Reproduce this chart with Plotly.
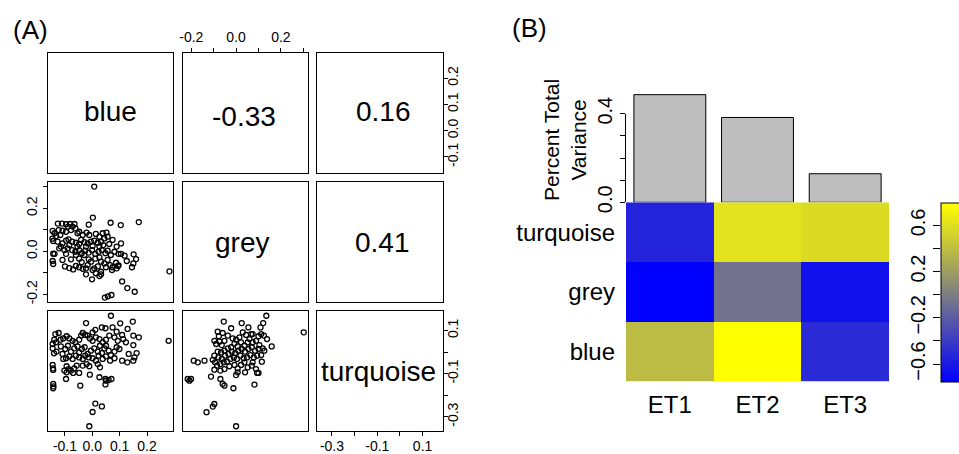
import plotly.graph_objects as go

W, H = 959, 454
FONT = "Liberation Sans, Arial, Helvetica, sans-serif"

# ---------------- data ----------------
variables = ["blue", "grey", "turquoise"]
axis_ranges = {"blue": [-0.162, 0.295], "grey": [-0.237, 0.321], "turquoise": [-0.366, 0.19]}
corr_labels = {(1, 2): "-0.33", (1, 3): "0.16", (2, 3): "0.41"}

# panel row2,col1 : x = blue, y = grey
p21_blue = [0.007, 0.002, 0.170, 0.067, 0.104, -0.013, 0.282, 0.109, 0.128, 0.155, 0.046, 0.057, 0.070,
            -0.001, -0.023, 0.032, 0.026, -0.126, -0.111, -0.096, -0.081, -0.065, -0.072, -0.089,
            -0.145, -0.146, -0.143, -0.132, -0.117, -0.138, -0.123, -0.109, -0.096, -0.078, -0.062,
            -0.054, -0.048, -0.035, -0.021, -0.011, 0.013, 0.026, 0.038, 0.044, 0.056, 0.052,
            -0.127, -0.109, -0.096, -0.087, -0.074, -0.060, -0.048, -0.041, -0.029, -0.017, -0.005,
            0.007, 0.020, 0.032, 0.040, 0.026, 0.001, -0.023, -0.054, -0.084, -0.115, 0.105, 0.089,
            0.074, 0.062, -0.143, -0.138, -0.121, -0.102, -0.090, -0.074, -0.062, -0.048, -0.038,
            -0.026, -0.013, -0.001, 0.011, 0.023, 0.035, 0.048, 0.056, 0.068, 0.081, 0.096, 0.105,
            0.118, 0.151, -0.029, -0.060, -0.096, -0.145, -0.143, -0.109, -0.100, -0.084, -0.070,
            -0.060, -0.039, -0.035, -0.023, -0.017, -0.005, 0.007, 0.020, 0.032, 0.044, 0.056, 0.065,
            0.074, 0.087, 0.094, 0.089, 0.096, 0.126, 0.160, 0.150, 0.145, 0.011, -0.013, -0.048,
            -0.078, 0.026, 0.050, 0.032, 0.001, -0.048, 0.072, 0.013]
p21_grey = [0.301, 0.157, 0.136, 0.133, 0.122, 0.124, -0.093, -0.140, -0.171, -0.188, -0.215, -0.209, -0.203,
            -0.130, -0.107, -0.107, -0.115, 0.129, 0.129, 0.126, 0.127, 0.127, 0.115, 0.115,
            0.095, 0.059, 0.048, 0.071, 0.076, 0.084, 0.099, 0.096, 0.091, 0.099, 0.107,
            0.084, 0.091, 0.076, 0.087, 0.076, 0.081, 0.068, 0.084, 0.060, 0.068, 0.087,
            0.045, 0.037, 0.050, 0.056, 0.045, 0.040, 0.034, 0.053, 0.043, 0.037, 0.045,
            0.050, 0.040, 0.045, 0.029, 0.022, 0.025, 0.022, 0.022, 0.029, 0.022, 0.037, 0.022,
            0.053, 0.034, -0.011, -0.012, 0.014, 0.006, 0.014, 0.006, -0.002, 0.006, -0.009,
            0.003, -0.006, 0.006, -0.012, -0.002, 0.006, -0.009, 0.003, -0.017, -0.002, -0.012, -0.012,
            -0.020, -0.014, -0.017, -0.017, -0.012, -0.045, -0.059, -0.040, -0.070, -0.078, -0.084,
            -0.068, -0.050, -0.081, -0.079, -0.064, -0.048, -0.079, -0.070, -0.048, -0.056, -0.040, -0.064,
            -0.074, -0.053, -0.068, -0.079, -0.065, -0.045, -0.036, -0.056, -0.074, -0.034, -0.037, -0.034,
            -0.037, -0.028, -0.074, -0.095, -0.087, -0.074, -0.087, -0.102]

# panel row3,col1 : x = blue, y = turquoise
p31_blue = [0.068, -0.023, 0.148, 0.102, 0.279, 0.170, 0.150, 0.129, 0.089, 0.074, 0.048, 0.035, 0.011, 0.001,
            -0.135, -0.123, -0.145, -0.139, -0.133, -0.116, -0.106, -0.094, -0.084, -0.072, -0.062, -0.048,
            -0.041, -0.035, -0.026, -0.017, -0.009, 0.001, 0.013, 0.026, 0.038, 0.050, 0.062, 0.081, 0.093,
            0.109, 0.113, 0.123, 0.150, 0.162, 0.154, 0.150, 0.133, 0.128, 0.109,
            -0.145, -0.140, -0.131, -0.115, -0.109, -0.099, -0.089, -0.078, -0.066, -0.054, -0.048, -0.038,
            -0.028, -0.017, -0.005, 0.007, 0.020, 0.028, 0.035, 0.044, 0.050, 0.060, 0.068, 0.081, 0.089,
            0.099, 0.081, 0.065, 0.050, 0.038, 0.023, 0.013, 0.001, -0.013, -0.026, -0.035, -0.048, -0.060,
            -0.072, -0.084, -0.096, -0.106,
            -0.145, -0.144, -0.143, -0.094, -0.087, -0.078, -0.066, -0.057, -0.048, -0.070, -0.094, -0.102,
            -0.035, -0.021, -0.011, 0.020, 0.028, -0.009, -0.096, -0.044, -0.143, -0.142, -0.143, 0.026,
            0.048, 0.060, 0.070, 0.048, 0.050, 0.011, 0.035, 0.001, -0.011]
p31_turq = [0.168, 0.134, 0.141, 0.133, 0.052, 0.068, 0.076, 0.107, 0.094, 0.114, 0.110, 0.114, 0.103, 0.091,
            0.083, 0.088, 0.037, 0.057, 0.045, 0.057, 0.063, 0.073, 0.063, 0.052, 0.045, 0.057,
            0.076, 0.088, 0.079, 0.076, 0.063, 0.052, 0.068, 0.060, 0.045, 0.057, 0.076, 0.068, 0.052,
            0.079, 0.060, 0.045, 0.032, -0.005, -0.025, -0.040, -0.009, -0.048, -0.040,
            0.017, -0.006, 0.002, 0.026, -0.009, 0.014, 0.029, 0.002, 0.017, 0.026, -0.002, 0.014,
            0.022, -0.009, 0.006, 0.017, 0.002, 0.029, -0.005, 0.017, 0.029, 0.006, -0.014, 0.002, 0.022,
            0.014, -0.029, -0.040, -0.020, -0.032, -0.017, -0.040, -0.029, -0.025, -0.017, -0.032, -0.025, -0.017,
            -0.032, -0.020, -0.029, -0.032,
            -0.060, -0.076, -0.083, -0.066, -0.079, -0.086, -0.076, -0.063, -0.097, -0.097, -0.094, -0.086,
            -0.063, -0.056, -0.066, -0.056, -0.071, -0.105, -0.125, -0.156, -0.148, -0.159, -0.168, -0.117,
            -0.125, -0.130, -0.125, -0.150, -0.133, -0.239, -0.252, -0.278, -0.344]

# panel row3,col2 : x = grey, y = turquoise
p32_grey = [0.135, -0.055, 0.121, 0.025, 0.055, 0.109, -0.022, 0.302, -0.082, -0.060, -0.077, -0.097, 0.159,
            0.126, 0.124, 0.138, 0.112, 0.074,
            -0.089, -0.074, -0.064, -0.052, -0.037, -0.015, 0.000, 0.015, 0.030, 0.045, 0.060, 0.074, 0.089,
            0.104, 0.119, 0.100, 0.067, 0.052, 0.037, 0.022, 0.007, -0.007, -0.022, -0.037, -0.052, -0.067,
            -0.082, -0.097, -0.079, -0.064, -0.049, -0.034, -0.019, -0.004, 0.010, 0.025, 0.040, 0.055, 0.070,
            0.085, 0.100, 0.112, 0.094, 0.079, 0.064, 0.049, 0.034, 0.019, 0.004, -0.010, -0.025, -0.040,
            -0.055, -0.070, -0.085, -0.094, -0.104, -0.097, -0.070, -0.052, -0.030, -0.007, 0.007, 0.022,
            0.037, 0.052, 0.070, 0.089, 0.115, 0.007, 0.000, 0.040, 0.094, 0.100, 0.074,
            -0.189, -0.171, -0.141, -0.216, -0.208, -0.201, -0.112, -0.070, -0.060, -0.052, -0.012, 0.082,
            -0.097, -0.104, -0.132, 0.000]
p32_turq = [0.168, 0.141, 0.134, 0.134, 0.114, 0.114, 0.110, 0.091, 0.094, 0.088, 0.073, 0.052, 0.026,
            0.006, 0.076, 0.060, 0.083, 0.083,
            0.037, 0.048, 0.032, 0.052, 0.076, 0.063, 0.057, 0.068, 0.091, 0.079, 0.060, 0.045, 0.052,
            0.032, 0.017, 0.073, 0.083, 0.045, 0.029, 0.045, 0.026, 0.039, 0.022, 0.017, 0.006, -0.002,
            0.002, -0.017, -0.025, -0.032, -0.017, -0.009, 0.002, -0.005, 0.006, 0.014, 0.002, 0.014, 0.022,
            0.006, 0.014, -0.014, -0.017, -0.025, -0.014, -0.025, -0.029, -0.017, -0.032, -0.025, -0.032, -0.045,
            -0.048, -0.056, -0.063, -0.048, -0.036, -0.082, -0.086, -0.079, -0.066, -0.060, -0.076, -0.060,
            -0.048, -0.071, -0.063, -0.079, -0.045, -0.094, -0.107, -0.094, -0.097, -0.097, -0.048,
            -0.040, -0.048, -0.040, -0.125, -0.133, -0.125, -0.114, -0.125, -0.148, -0.156, -0.168, -0.151,
            -0.241, -0.253, -0.279, -0.344]

eigengenes = ["ET1", "ET2", "ET3"]
variance_explained = [0.486, 0.383, 0.129]
heat_rows = ["blue", "grey", "turquoise"]
heat_blue = [0.39, 0.80, -0.50]
heat_grey = [-0.753, -0.06, -0.65]
heat_turquoise = [-0.54, 0.62, 0.58]
heat_range = [-0.753, 0.80]
cbar_ticks = [-0.6, -0.4, -0.2, 0.0, 0.2, 0.4, 0.6]
cbar_ticktext = ["\u22120.6", "", "\u22120.2", "", "0.2", "", "0.6"]

# ---------------- layout helpers (pixel geometry) ----------------
def dx(a, b):
    return [a / W, b / W]

def dy(top, bottom):
    return [1 - bottom / H, 1 - top / H]

def sfx(n):
    return "" if n == 1 else str(n)

col_px = [(48, 173), (183, 308), (317, 443)]
row_px = [(53, 173.3), (182.3, 302.3), (311, 431)]

tickfont_a = dict(family=FONT, size=14, color="black")

fig = go.Figure()
layout = dict(
    width=W, height=H, template="none",
    margin=dict(l=0, r=0, t=0, b=0, autoexpand=False),
    paper_bgcolor="white", plot_bgcolor="rgba(0,0,0,0)",
    font=dict(family=FONT, color="black"),
    showlegend=False,
)

def box_axis(domain, rng):
    return dict(domain=domain, range=rng, showgrid=False, zeroline=False, showline=True,
                mirror=True, linecolor="black", linewidth=1, ticks="", showticklabels=False,
                fixedrange=True)

def with_ticks(ax, side, vals, text, angle=0, standoff=0):
    ax.update(side=side, ticks="outside", ticklen=4, tickwidth=1, tickcolor="black",
              showticklabels=True, tickvals=vals, ticktext=text, tickfont=tickfont_a,
              tickangle=angle, ticklabelstandoff=standoff)
    return ax

grey_ticks = [-0.2, -0.1, 0.0, 0.1, 0.2, 0.3]
grey_text = ["-0.2", "", "0.0", "", "0.2", ""]
blue_ticks = [-0.1, 0.0, 0.1, 0.2]
blue_text = ["-0.1", "0.0", "0.1", "0.2"]
turq_ticks = [-0.3, -0.2, -0.1, 0.0, 0.1]
turq_text = ["-0.3", "", "-0.1", "", "0.1"]

for r in range(3):
    for c in range(3):
        n = r * 3 + c + 1
        xa = box_axis(dx(*col_px[c]), axis_ranges[variables[c]])
        ya = box_axis(dy(*row_px[r]), axis_ranges[variables[r]])
        xa["anchor"] = "y" + sfx(n)
        ya["anchor"] = "x" + sfx(n)
        if (r, c) == (0, 1):
            with_ticks(xa, "top", grey_ticks, grey_text)
        if (r, c) == (2, 0):
            with_ticks(xa, "bottom", blue_ticks, blue_text, standoff=-2)
        if (r, c) == (2, 2):
            with_ticks(xa, "bottom", turq_ticks, turq_text, standoff=-2)
        if (r, c) == (0, 2):
            with_ticks(ya, "right", blue_ticks, blue_text, -90, standoff=-7)
        if (r, c) == (1, 0):
            with_ticks(ya, "left", grey_ticks, grey_text, -90)
        if (r, c) == (2, 2):
            with_ticks(ya, "right", turq_ticks, turq_text, -90, standoff=-7)
        layout["xaxis" + sfx(n)] = xa
        layout["yaxis" + sfx(n)] = ya
        if r <= c:
            fig.add_trace(go.Scatter(x=[None], y=[None], xaxis="x" + sfx(n), yaxis="y" + sfx(n),
                                     hoverinfo="skip", showlegend=False))

marker = dict(symbol="circle-open", size=5, color="black", line=dict(width=1.3, color="black"))
for n, xs, ys in [(4, p21_blue, p21_grey), (7, p31_blue, p31_turq), (8, p32_grey, p32_turq)]:
    fig.add_trace(go.Scatter(x=xs, y=ys, mode="markers", marker=marker,
                             xaxis="x" + sfx(n), yaxis="y" + sfx(n), showlegend=False))

annotations = []
big = dict(family=FONT, size=28, color="black")
# diagonal names and correlations (positions in pixels)
text_pos = {(1, 1): (110, 111.5), (2, 2): (242, 242.5), (3, 3): (378.5, 371),
            (1, 2): (244, 116), (1, 3): (383, 111.5), (2, 3): (382.5, 242.5)}
for (r, c), (px, py) in text_pos.items():
    txt = variables[r - 1] if r == c else corr_labels[(r, c)]
    annotations.append(dict(text=txt, x=px / W, y=1 - py / H, xref="paper", yref="paper",
                            xanchor="center", yanchor="middle", showarrow=False, font=big))

annotations.append(dict(text="(A)", x=30 / W, y=1 - 30 / H, xref="paper", yref="paper",
                        xanchor="center", yanchor="middle",
                        showarrow=False, font=dict(family=FONT, size=26, color="black")))
annotations.append(dict(text="(B)", x=529 / W, y=1 - 28 / H, xref="paper", yref="paper",
                        xanchor="center", yanchor="middle",
                        showarrow=False, font=dict(family=FONT, size=26, color="black")))

# ---------------- panel B ----------------
hx = dx(626, 889)
# bars
layout["xaxis10"] = dict(domain=hx, range=[-0.5, 2.5], anchor="y10", visible=False, type="category",
                         fixedrange=True)
layout["yaxis10"] = dict(domain=dy(90, 202.3), range=[0, 0.507], anchor="x10", visible=False,
                         fixedrange=True)
fig.add_trace(go.Bar(x=eigengenes, y=variance_explained, width=0.82, xaxis="x10", yaxis="y10",
                     marker=dict(color="#BEBEBE", line=dict(color="black", width=1)),
                     showlegend=False))
# bar y-axis (R style, line from 0 to 0.4)
layout["xaxis11"] = dict(domain=hx, range=[0, 1], anchor="y11", visible=False, fixedrange=True)
layout["yaxis11"] = dict(domain=dy(113.7, 202.3), range=[0, 0.4], anchor="x11", side="left",
                         showline=True, linecolor="black", linewidth=1, showgrid=False, zeroline=False,
                         ticks="outside", ticklen=5, tickcolor="black",
                         tickvals=[0, 0.1, 0.2, 0.3, 0.4], ticktext=["0.0", "", "", "", "0.4"],
                         tickangle=-90, tickfont=dict(family=FONT, size=20, color="black"),
                         fixedrange=True)
fig.add_trace(go.Scatter(x=[None], y=[None], xaxis="x11", yaxis="y11", hoverinfo="skip",
                         showlegend=False))
annotations.append(dict(text="Percent Total<br>Variance", x=565 / W, y=1 - 140 / H, xref="paper",
                        yref="paper", textangle=-90, showarrow=False, align="center",
                        xanchor="center", yanchor="middle",
                        font=dict(family=FONT, size=21, color="black")))

# heatmap
layout["xaxis12"] = dict(domain=hx, anchor="y12", type="category", range=[-0.5, 2.5], showgrid=False,
                         zeroline=False, showline=False, ticks="", ticklabelstandoff=6,
                         tickfont=dict(family=FONT, size=24, color="black"), fixedrange=True)
layout["yaxis12"] = dict(domain=dy(202.3, 381.7), anchor="x12", type="category", range=[-0.5, 2.5],
                         showgrid=False, zeroline=False, showline=False, ticks="", ticklabelstandoff=10,
                         tickfont=dict(family=FONT, size=24, color="black"), fixedrange=True)
fig.add_trace(go.Heatmap(
    x=eigengenes, y=heat_rows, z=[heat_blue, heat_grey, heat_turquoise],
    zmin=heat_range[0], zmax=heat_range[1], xaxis="x12", yaxis="y12",
    colorscale=[[0, "#0000FF"], [0.5, "#808080"], [1, "#FFFF00"]],
    colorbar=dict(x=940.7 / W, xanchor="left", xpad=0, ypad=0, thickness=30, thicknessmode="pixels",
                  len=179.4, lenmode="pixels", y=1 - 292 / H, yanchor="middle",
                  showticklabels=False, ticks="", outlinewidth=1, outlinecolor="black"),
))
# colorbar labels axis
layout["xaxis13"] = dict(domain=dx(940.7, 959), range=[0, 1], anchor="y13", visible=False,
                         fixedrange=True)
layout["yaxis13"] = dict(domain=dy(202.3, 381.7), range=heat_range, anchor="x13", side="left",
                         showline=False, showgrid=False, zeroline=False, ticks="outside", ticklen=7,
                         tickcolor="black", tickvals=cbar_ticks, ticktext=cbar_ticktext, tickangle=-90,
                         tickfont=dict(family=FONT, size=20, color="black"), fixedrange=True)
fig.add_trace(go.Scatter(x=[None], y=[None], xaxis="x13", yaxis="y13", hoverinfo="skip",
                         showlegend=False))

layout["annotations"] = annotations
fig.update_layout(**layout)
fig.write_html("out.html", config={"displayModeBar": False},
               post_script="document.body.style.margin='0';document.body.style.overflow='hidden';")
